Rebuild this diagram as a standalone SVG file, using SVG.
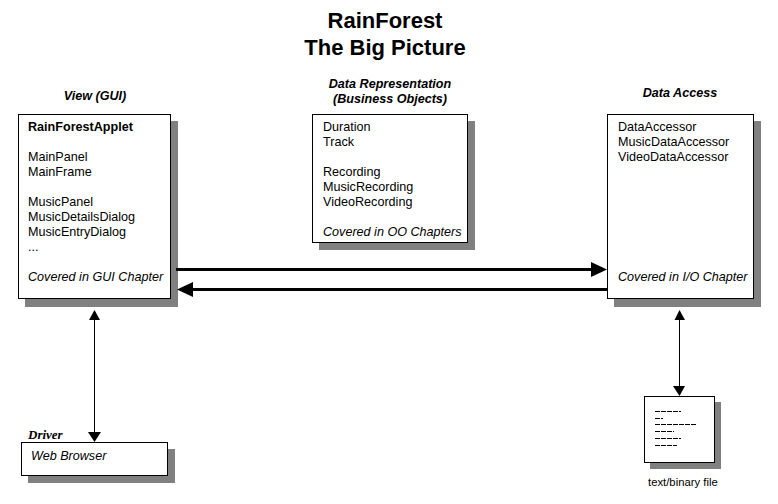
<svg xmlns="http://www.w3.org/2000/svg" width="778" height="504" viewBox="0 0 778 504">
<style>
text{font-family:"Liberation Sans",Arial,sans-serif;font-size:12.600px;fill:#000}
.t{font-size:22px;font-weight:bold;text-anchor:middle}
.h{font-size:12.600px;font-weight:bold;font-style:italic;text-anchor:middle}
.i{font-style:italic}
.s{fill:#808080}
.b{fill:#fff;stroke:#000;stroke-width:1}
.c1{stroke:#000;stroke-width:3;fill:none}
.c2{stroke:#000;stroke-width:1;fill:none}
.d{stroke:#000;stroke-width:1;stroke-dasharray:5 1}
</style>
<rect width="778" height="504" fill="#fff"/>
<g id="title">
<text class="t" x="385" y="28">RainForest</text>
<text class="t" x="385" y="55">The Big Picture</text>
</g>
<g id="view">
<text class="h" x="95" y="100">View (GUI)</text>
<rect class="s" x="25" y="121" width="153" height="186"/>
<rect class="b" x="18.500" y="114.500" width="152" height="184"/>
<text x="28" y="131" font-weight="bold">RainForestApplet</text>
<text x="28" y="161">MainPanel</text>
<text x="28" y="176">MainFrame</text>
<text x="28" y="206">MusicPanel</text>
<text x="28" y="221">MusicDetailsDialog</text>
<text x="28" y="236">MusicEntryDialog</text>
<text x="28" y="251">...</text>
<text class="i" x="28" y="281">Covered in GUI Chapter</text>
</g>
<g id="data-representation">
<text class="h" x="390" y="88">Data Representation</text>
<text class="h" x="390" y="103">(Business Objects)</text>
<rect class="s" x="319" y="121" width="156" height="129"/>
<rect class="b" x="312.500" y="114.500" width="155" height="128"/>
<text x="323" y="131">Duration</text>
<text x="323" y="146">Track</text>
<text x="323" y="176">Recording</text>
<text x="323" y="191">MusicRecording</text>
<text x="323" y="206">VideoRecording</text>
<text class="i" x="323" y="236">Covered in OO Chapters</text>
</g>
<g id="data-access">
<text class="h" x="680" y="97">Data Access</text>
<rect class="s" x="614" y="121" width="147" height="186"/>
<rect class="b" x="607.500" y="114.500" width="146" height="184"/>
<text x="618" y="131">DataAccessor</text>
<text x="618" y="146">MusicDataAccessor</text>
<text x="618" y="161">VideoDataAccessor</text>
<text class="i" x="618" y="281">Covered in I/O Chapter</text>
</g>
<g id="driver">
<text x="28" y="439" style="font-family:'Liberation Serif',serif;font-size:13px" font-weight="bold" font-style="italic">Driver</text>
<rect class="s" x="28" y="449" width="147" height="34"/>
<rect class="b" x="21.500" y="442.500" width="146" height="33"/>
<text class="i" x="31" y="460">Web Browser</text>
</g>
<g id="file">
<rect class="s" x="650" y="402" width="71" height="67"/>
<rect class="b" x="644.500" y="396.500" width="70" height="66"/>
<path class="d" d="M655 411.500h26M655 418.500h8M655 424.500h41M655 431.500h19M655 438.500h26M655 445.500h22"/>
<text x="648" y="486" style="font-size:11.300px">text/binary file</text>
</g>
<g id="connectors">
<path class="c1" d="M176 269.500H592"/>
<path d="M607 269.500L591 262V277Z"/>
<path class="c1" d="M192 289.500H607"/>
<path d="M177 289.500L193 282V297Z"/>
<path class="c2" d="M94.500 320V432"/>
<path d="M94.500 310L89 320H100Z"/>
<path d="M94.500 442L88 432H101Z"/>
<path class="c2" d="M679.500 320V386"/>
<path d="M679.500 310L674.500 320H685Z"/>
<path d="M679.500 396L673 386H685Z"/>
</g>
</svg>
